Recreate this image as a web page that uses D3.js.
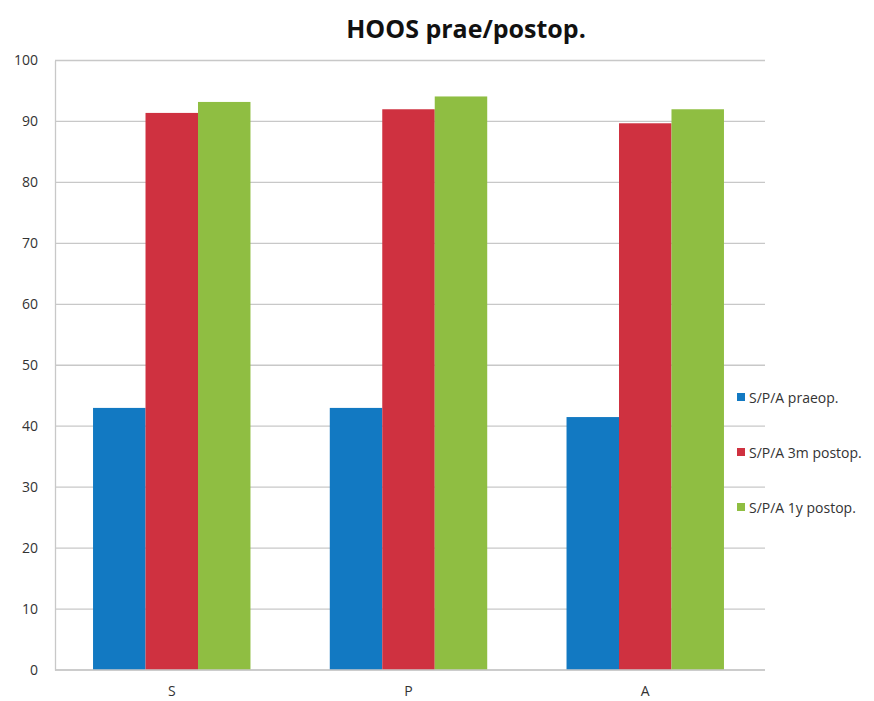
<!DOCTYPE html>
<html><head><meta charset="utf-8">
<script src="https://cdn.jsdelivr.net/npm/d3@7"></script>
<style>body{margin:0;background:#fff}svg{display:block}text{font-family:"Open Sans",Calibri,sans-serif}</style>
</head><body><svg id="c" width="874" height="701"></svg>
<script>
const categories = ["S", "P", "A"];
const seriesNames = ["S/P/A praeop.", "S/P/A 3m postop.", "S/P/A 1y postop."];
const praeop = [43.0, 43.0, 41.5];
const post3m = [91.4, 92.0, 89.7];
const post1y = [93.2, 94.1, 92.0];
const yTicks = [0,10,20,30,40,50,60,70,80,90,100];
const colors = ["#1279c2", "#cf3140", "#8fbe42"];

const series = [praeop, post3m, post1y];
const svg = d3.select("#c");
const L = 55, R = 765, T = 60.5, B = 670;

const x = d3.scaleBand().domain(categories).range([L - 1.5, R - 1.5]).paddingInner(0.335).paddingOuter(0.167);
const xs = d3.scaleBand().domain(d3.range(3)).range([0, x.bandwidth()]);
const y = d3.scaleLinear().domain([0, 100]).range([B, T]);

// gridlines
svg.append("g").selectAll("line").data(yTicks).join("line")
  .attr("x1", L).attr("x2", R).attr("y1", d => y(d)).attr("y2", d => y(d))
  .attr("stroke", "#c8c8c8").attr("stroke-width", 1.3);

// y axis
const ya = svg.append("g").attr("transform", `translate(${L},0)`)
  .call(d3.axisLeft(y).tickValues(yTicks).tickSize(0).tickPadding(17));
ya.select(".domain").attr("stroke", "#c8c8c8").attr("stroke-width", 1.3);
ya.selectAll("text").attr("font-size", 14).attr("fill", "#333");

// bars
series.forEach((vals, si) => {
  svg.append("g").selectAll("rect").data(categories).join("rect")
    .attr("x", c => x(c) + xs(si))
    .attr("width", xs.bandwidth())
    .attr("y", (c, i) => y(vals[i]))
    .attr("height", (c, i) => B - y(vals[i]))
    .attr("fill", colors[si]);
});

// x axis
const xa = svg.append("g").attr("transform", `translate(0,${B})`)
  .call(d3.axisBottom(x).tickSize(0).tickPadding(16));
xa.select(".domain").attr("stroke", "#c8c8c8").attr("stroke-width", 1.3).attr("d", `M${L},0H${R}`);
xa.selectAll("text").attr("font-size", 14).attr("fill", "#333");

// title
svg.append("text").attr("x", 466).attr("y", 38).attr("text-anchor", "middle")
  .attr("font-size", 25).attr("font-weight", "bold").attr("fill", "#111").text("HOOS prae/postop.");

// legend
const lg = svg.append("g").selectAll("g").data(seriesNames).join("g")
  .attr("transform", (d, i) => `translate(737,${398 + i * 55})`);
lg.append("rect").attr("x", 0).attr("y", -5).attr("width", 8).attr("height", 8).attr("fill", (d, i) => colors[i]);
lg.append("text").attr("x", 12).attr("y", 0).attr("dy", "0.35em").attr("font-size", 14).attr("fill", "#333").text(d => d);
</script></body></html>
